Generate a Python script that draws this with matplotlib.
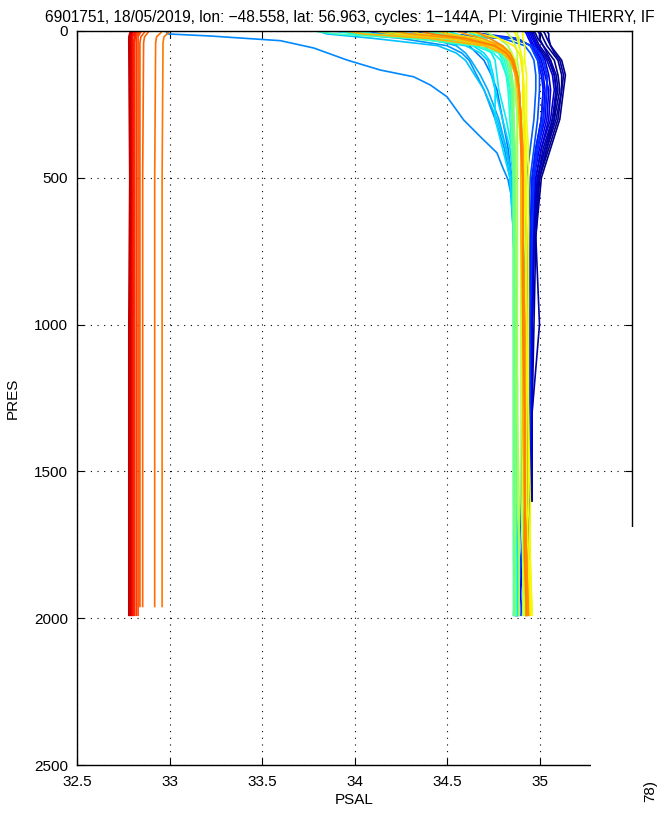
import numpy as np
import matplotlib
matplotlib.use("Agg")
import matplotlib.pyplot as plt
from matplotlib.patches import Rectangle

nan = np.nan

TITLE = "6901751, 18/05/2019, lon: \u221248.558, lat: 56.963, cycles: 1\u2212144A, PI: Virginie THIERRY, IF"
N_CYCLES = 144

XTICKS = [32.5, 33, 33.5, 34, 34.5, 35]
XTICKLABELS = ["32.5", "33", "33.5", "34", "34.5", "35"]
YTICKS = [0, 500, 1000, 1500, 2000, 2500]

# profiles, psal at these pressures (dbar)
PRES_LEVELS = [0, 10, 25, 50, 75, 100, 150, 200, 300, 400, 500, 700, 1000, 1300, 1600, 1800, 1990]

PSAL_MAIN = {
    1:  [34.97, 34.98, 34.99, 35.02, 35.05, 35.08, 35.10, 35.11, 35.08, 35.03, 34.99, 34.96, 34.95, 34.94, 34.94, 34.93, 34.93],
    2:  [35.00, 35.01, 35.02, 35.04, 35.07, 35.10, 35.12, 35.12, 35.10, 35.05, 35.00, 34.97, 34.96, 34.95, 34.95, 34.94, nan],
    3:  [35.02, 35.03, 35.04, 35.06, 35.09, 35.12, 35.14, 35.13, 35.11, 35.06, 35.01, 34.98, 34.97, 34.96, 34.96, nan, nan],
    4:  [34.95, 34.96, 34.97, 34.99, 35.02, 35.05, 35.08, 35.09, 35.08, 35.04, 35.00, 34.97, 34.96, 34.96, 34.95, nan, nan],
    5:  [34.96, 34.97, 34.98, 35.00, 35.03, 35.06, 35.09, 35.10, 35.07, 35.02, 34.99, 34.97, 34.96, 34.96, 34.95, nan, nan],
    6:  [35.04, 35.05, 35.05, 35.06, 35.08, 35.11, 35.13, 35.12, 35.09, 35.04, 35.00, 34.98, 35.00, 34.96, 34.96, nan, nan],
    8:  [34.99, 35.00, 35.00, 35.02, 35.04, 35.06, 35.08, 35.09, 35.07, 35.03, 34.99, 34.97, 34.96, 34.96, 34.96, nan, nan],
    10: [34.94, 34.95, 34.96, 34.98, 35.01, 35.04, 35.07, 35.08, 35.06, 35.01, 34.98, 34.97, 34.96, 34.96, 34.95, nan, nan],
    12: [34.95, 34.96, 34.97, 34.99, 35.01, 35.03, 35.05, 35.06, 35.05, 35.01, 34.98, 34.96, 34.96, 34.95, 34.95, 34.94, nan],
    14: [34.93, 34.94, 34.95, 34.97, 34.99, 35.01, 35.03, 35.05, 35.04, 35.00, 34.97, 34.96, 34.95, 34.95, 34.95, 34.93, 34.92],
    16: [34.96, 34.96, 34.97, 34.98, 35.00, 35.02, 35.04, 35.04, 35.03, 34.99, 34.97, 34.96, 34.96, 34.95, 34.95, 34.91, 34.88],
    18: [34.92, 34.93, 34.94, 34.96, 34.98, 35.00, 35.02, 35.03, 35.02, 34.99, 34.97, 34.96, 34.95, 34.95, 34.94, 34.90, 34.87],
    20: [34.94, 34.94, 34.95, 34.96, 34.97, 34.99, 35.01, 35.02, 35.01, 34.98, 34.96, 34.95, 34.95, 34.94, 34.94, 34.91, 34.89],
    23: [34.55, 34.70, 34.88, 34.95, 34.98, 35.00, 35.02, 35.02, 35.01, 34.98, 34.96, 34.95, 34.94, 34.94, 34.93, 34.90, 34.87],
    26: [34.00, 34.30, 34.85, 34.96, 35.00, 35.02, 35.04, 35.04, 35.02, 34.99, 34.97, 34.96, 34.95, 34.95, 34.94, 34.92, 34.90],
    29: [34.25, 34.50, 34.88, 34.95, 34.97, 34.99, 35.00, 35.00, 34.99, 34.97, 34.95, 34.94, 34.93, 34.93, 34.92, 34.90, 34.88],
    32: [33.85, 34.20, 34.80, 34.92, 34.95, 34.97, 34.98, 34.98, 34.97, 34.95, 34.93, 34.92, 34.91, 34.91, 34.90, 34.89, 34.87],
    36: [34.40, 34.45, 34.55, 34.62, 34.66, 34.70, 34.74, 34.77, 34.80, 34.83, 34.85, 34.86, 34.87, 34.87, 34.87, 34.88, 34.88],
    40: [33.95, 34.00, 34.25, 34.50, 34.58, 34.62, 34.66, 34.70, 34.76, 34.81, 34.84, 34.86, 34.87, 34.87, 34.87, 34.87, 34.86],
    43: [34.20, 34.25, 34.40, 34.55, 34.60, 34.63, 34.68, 34.72, 34.78, 34.82, 34.85, 34.86, 34.87, 34.87, 34.87, 34.87, 34.87],
    46: [33.80, 33.85, 34.10, 34.45, 34.55, 34.60, 34.65, 34.70, 34.77, 34.82, 34.85, 34.86, 34.87, 34.87, 34.87, 34.87, 34.88],
    48: [34.05, 34.10, 34.35, 34.60, 34.68, 34.72, 34.74, 34.76, 34.80, 34.84, 34.86, 34.87, 34.87, 34.87, 34.87, 34.88, 34.88],
    50: [34.25, 34.30, 34.45, 34.64, 34.70, 34.73, 34.75, 34.76, 34.76, 34.80, 34.84, 34.86, 34.87, 34.87, 34.87, 34.87, 34.88],
    52: [34.50, 34.55, 34.62, 34.70, 34.74, 34.76, 34.77, 34.78, 34.82, 34.85, 34.86, 34.87, 34.87, 34.87, 34.87, 34.88, 34.88],
    54: [33.90, 34.00, 34.35, 34.65, 34.75, 34.79, 34.82, 34.84, 34.85, 34.86, 34.86, 34.87, 34.87, 34.87, 34.87, 34.87, 34.87],
    56: [34.35, 34.45, 34.62, 34.74, 34.78, 34.80, 34.82, 34.83, 34.84, 34.85, 34.86, 34.86, 34.87, 34.87, 34.87, 34.87, 34.87],
    58: [34.60, 34.64, 34.70, 34.76, 34.79, 34.81, 34.83, 34.84, 34.85, 34.86, 34.86, 34.86, 34.87, 34.87, 34.87, 34.87, 34.87],
    60: [34.00, 34.10, 34.45, 34.72, 34.80, 34.83, 34.85, 34.86, 34.86, 34.86, 34.86, 34.86, 34.86, 34.87, 34.87, 34.87, 34.87],
    62: [33.78, 33.90, 34.30, 34.66, 34.78, 34.82, 34.84, 34.85, 34.86, 34.86, 34.86, 34.86, 34.86, 34.86, 34.86, 34.86, 34.87],
    65: [34.62, 34.66, 34.73, 34.80, 34.83, 34.84, 34.85, 34.85, 34.86, 34.86, 34.86, 34.86, 34.86, 34.86, 34.86, 34.86, 34.86],
    68: [34.40, 34.48, 34.62, 34.76, 34.81, 34.83, 34.84, 34.85, 34.85, 34.85, 34.86, 34.86, 34.86, 34.86, 34.86, 34.86, 34.86],
    71: [34.20, 34.30, 34.55, 34.74, 34.80, 34.83, 34.84, 34.85, 34.86, 34.86, 34.86, 34.86, 34.86, 34.86, 34.86, 34.87, 34.87],
    74: [33.95, 34.05, 34.40, 34.70, 34.80, 34.83, 34.85, 34.86, 34.86, 34.87, 34.87, 34.87, 34.87, 34.87, 34.87, 34.87, 34.87],
    77: [34.70, 34.73, 34.78, 34.83, 34.85, 34.86, 34.87, 34.87, 34.88, 34.88, 34.88, 34.88, 34.88, 34.88, 34.88, 34.89, 34.89],
    80: [34.15, 34.25, 34.52, 34.76, 34.83, 34.85, 34.87, 34.87, 34.88, 34.88, 34.88, 34.88, 34.88, 34.88, 34.89, 34.89, 34.89],
    83: [34.82, 34.83, 34.85, 34.87, 34.88, 34.88, 34.89, 34.89, 34.89, 34.90, 34.90, 34.90, 34.90, 34.90, 34.90, 34.91, 34.91],
    86: [34.45, 34.52, 34.66, 34.80, 34.85, 34.87, 34.88, 34.89, 34.89, 34.90, 34.90, 34.90, 34.90, 34.91, 34.91, 34.91, 34.92],
    89: [34.88, 34.88, 34.89, 34.89, 34.90, 34.90, 34.91, 34.91, 34.91, 34.92, 34.92, 34.92, 34.93, 34.93, 34.93, 34.94, 34.95],
    91: [34.86, 34.87, 34.88, 34.89, 34.90, 34.91, 34.91, 34.92, 34.92, 34.93, 34.93, 34.93, 34.93, 34.94, 34.94, 34.95, 34.96],
    93: [34.91, 34.91, 34.91, 34.92, 34.92, 34.92, 34.93, 34.93, 34.93, 34.94, 34.94, 34.94, 34.94, 34.94, 34.95, 34.95, 34.96],
    95: [34.60, 34.68, 34.78, 34.86, 34.89, 34.90, 34.91, 34.91, 34.92, 34.92, 34.92, 34.93, 34.93, 34.93, 34.93, 34.94, 34.95],
    98: [34.30, 34.36, 34.60, 34.77, 34.83, 34.86, 34.88, 34.89, 34.90, 34.90, 34.91, 34.91, 34.91, 34.91, 34.92, 34.92, 34.93],
    100: [34.10, 34.20, 34.50, 34.73, 34.81, 34.85, 34.87, 34.89, 34.90, 34.90, 34.90, 34.91, 34.91, 34.91, 34.92, 34.92, 34.93],
    102: [34.45, 34.50, 34.64, 34.78, 34.83, 34.86, 34.88, 34.89, 34.90, 34.90, 34.91, 34.91, 34.91, 34.92, 34.92, 34.93, 34.94],
    104: [33.95, 34.05, 34.40, 34.70, 34.80, 34.84, 34.87, 34.88, 34.89, 34.90, 34.90, 34.90, 34.91, 34.91, 34.92, 34.92, 34.93],
    106: [34.55, 34.60, 34.69, 34.79, 34.84, 34.86, 34.88, 34.89, 34.90, 34.91, 34.91, 34.91, 34.92, 34.92, 34.92, 34.93, 34.94],
    108: [34.20, 34.30, 34.56, 34.75, 34.82, 34.85, 34.87, 34.89, 34.90, 34.90, 34.91, 34.91, 34.91, 34.92, 34.92, 34.93, 34.93],
    110: [34.65, 34.68, 34.73, 34.80, 34.84, 34.86, 34.88, 34.89, 34.90, 34.91, 34.91, 34.91, 34.92, 34.92, 34.92, 34.93, 34.94],
    112: [34.35, 34.42, 34.60, 34.76, 34.82, 34.85, 34.88, 34.89, 34.90, 34.90, 34.91, 34.91, 34.91, 34.92, 34.92, 34.92, 34.93],
}

# the fresh outlier profile, with its own pressures
OUTLIER_CYCLE = 38
OUTLIER_PRES = [0, 10, 17, 33, 58, 99, 133, 156, 184, 224, 303, 360, 415, 463, 507, 600, 800, 1200, 1600, 1990]
OUTLIER_PSAL = [32.98, 32.99, 33.22, 33.60, 33.78, 33.96, 34.14, 34.32, 34.41, 34.50, 34.59, 34.68, 34.77, 34.80,
                34.83, 34.86, 34.87, 34.88, 34.88, 34.88]

# last cycles with the drifted (low) salinity
OFFSET_PRES = [0, 8, 20, 40, 500, 1000, 1500, 1960]
PSAL_OFFSET = {
    113: [33.00, 32.99, 32.97, 32.965, 32.96, 32.96, 32.96, 32.96],
    114: [32.96, 32.95, 32.93, 32.925, 32.92, 32.92, 32.92, 32.92],
    116: [32.89, 32.88, 32.865, 32.86, 32.855, 32.855, 32.855, 32.855],
    118: [32.87, 32.86, 32.845, 32.84, 32.84, 32.84, 32.84, 32.84],
}
RED_PRES = [0, 8, 20, 40, 500, 1000, 1500, 1990]
PSAL_RED = {
    120: [32.85, 32.84, 32.83, 32.83, 32.83, 32.83, 32.83, 32.83],
    122: [32.84, 32.83, 32.82, 32.82, 32.82, 32.82, 32.82, 32.82],
    124: [32.83, 32.82, 32.815, 32.81, 32.81, 32.81, 32.81, 32.81],
    126: [32.82, 32.815, 32.81, 32.805, 32.805, 32.805, 32.805, 32.805],
    128: [32.815, 32.81, 32.80, 32.80, 32.80, 32.80, 32.80, 32.80],
    130: [32.81, 32.80, 32.795, 32.795, 32.795, 32.795, 32.795, 32.795],
    132: [32.80, 32.795, 32.79, 32.79, 32.79, 32.79, 32.79, 32.79],
    134: [32.795, 32.79, 32.785, 32.785, 32.79, 32.785, 32.785, 32.785],
    136: [32.79, 32.785, 32.78, 32.78, 32.785, 32.78, 32.78, 32.78],
}

plt.rcParams['font.family'] = ['Liberation Sans', 'DejaVu Sans']

fig = plt.figure(figsize=(6.68, 8.15), dpi=100)
ax = fig.add_axes([77 / 668, 1 - 765 / 815, 555 / 668, 734 / 815])

cmap = plt.get_cmap('jet')
norm = matplotlib.colors.Normalize(vmin=1, vmax=N_CYCLES)

profiles = []
for c, vals in PSAL_MAIN.items():
    profiles.append((c, vals, PRES_LEVELS))
profiles.append((OUTLIER_CYCLE, OUTLIER_PSAL, OUTLIER_PRES))
for c, vals in PSAL_OFFSET.items():
    profiles.append((c, vals, OFFSET_PRES))
for c, vals in PSAL_RED.items():
    profiles.append((c, vals, RED_PRES))
profiles.sort(key=lambda p: p[0])

for c, psal, pres in profiles:
    ax.plot(psal, pres, color=cmap(norm(c)), lw=1.2, zorder=2)

ax.set_xlim(32.5, 35.5)
ax.set_ylim(2500, 0)
ax.set_xticks(XTICKS)
ax.set_xticklabels(XTICKLABELS)
ax.set_yticks(YTICKS)
ax.tick_params(direction='in', top=True, right=True, length=5, width=0.8, labelsize=11)
ax.tick_params(axis='x', pad=7)
ax.tick_params(axis='y', pad=6.5)
ax.grid(True, color='k', linestyle=(0, (1, 5)), linewidth=0.8)
ax.set_axisbelow(True)
for s in ax.spines.values():
    s.set_linewidth(1.0)

ax.set_xlabel('PSAL', fontsize=11)
ax.set_ylabel('PRES', fontsize=11)
ax.xaxis.set_label_coords(0.5, -0.038)
ax.yaxis.set_label_coords(-0.104, 0.5)

# blank corner bottom right, as in the screenshot
ax.add_patch(Rectangle((35.28, 1690), 1.0, 1500, facecolor='white', edgecolor='none',
                       clip_on=False, zorder=5))

fig.text(45 / 668, 1 - 22 / 815, TITLE, ha='left', va='baseline', fontsize=11.2)
fig.text(650 / 668, 1 - 780 / 815, "78)", rotation=90, ha='center', va='top', fontsize=11)

fig.savefig('out.png', dpi=100)
